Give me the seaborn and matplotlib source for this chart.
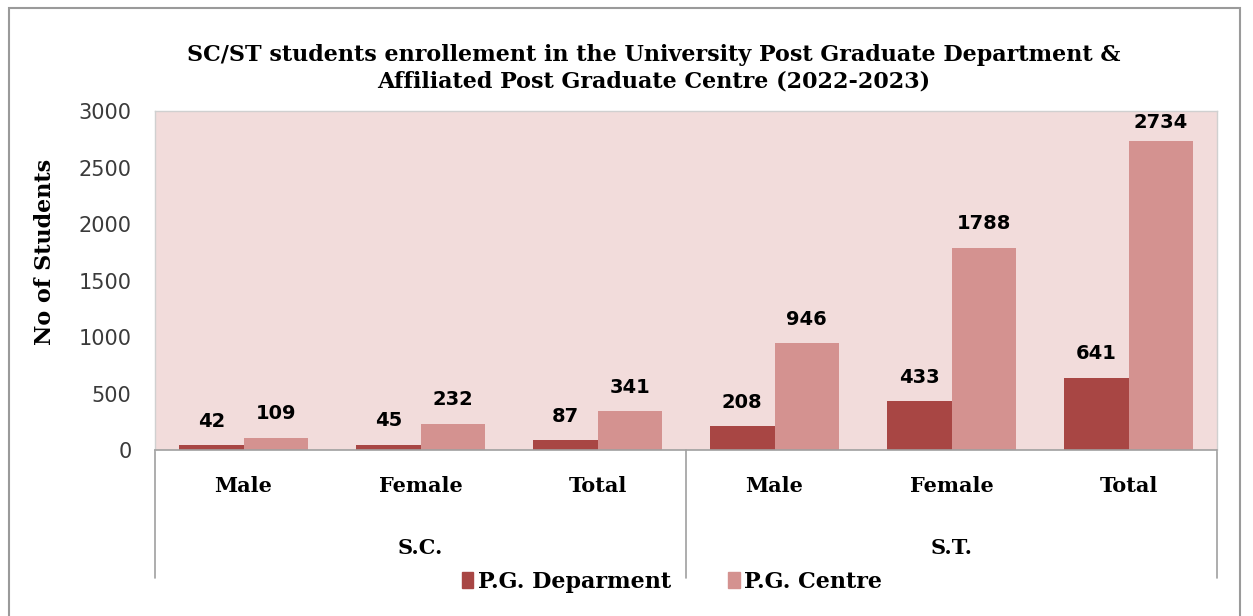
import matplotlib
matplotlib.use("Agg")
import matplotlib.pyplot as plt
import seaborn as sns
import pandas as pd
from matplotlib.patches import Rectangle
from matplotlib.lines import Line2D

groups = ["S.C.", "S.C.", "S.C.", "S.T.", "S.T.", "S.T."]
categories = ["Male", "Female", "Total", "Male", "Female", "Total"]
pg_department = [42, 45, 87, 208, 433, 641]
pg_centre = [109, 232, 341, 946, 1788, 2734]
series_names = ["P.G. Deparment", "P.G. Centre"]
yticks = [0, 500, 1000, 1500, 2000, 2500, 3000]

keys = [f"{g}|{c}" for g, c in zip(groups, categories)]
df = pd.DataFrame({
    "key": keys * 2,
    "value": pg_department + pg_centre,
    "series": [series_names[0]] * 6 + [series_names[1]] * 6,
})

sns.set_theme(style="white")
plt.rcParams["font.family"] = ["DejaVu Sans"]
plt.rcParams["text.color"] = "black"
plt.rcParams["axes.labelcolor"] = "black"

dark = "#A84644"
light = "#D49290"
bg = "#F2DCDB"

W, H = 1253, 616
fig = plt.figure(figsize=(W / 100, H / 100), dpi=100)
ax_left, ax_right, ax_top, ax_bot = 155, 1217, 111, 450
ax = fig.add_axes([ax_left / W, 1 - ax_bot / H, (ax_right - ax_left) / W, (ax_bot - ax_top) / H])
ax.set_facecolor(bg)

sns.barplot(data=df, x="key", y="value", hue="series", order=keys,
            hue_order=series_names, palette=[dark, light], width=0.73,
            saturation=1, linewidth=0, ax=ax, legend=False)

ymax = 3000
ax.set_ylim(0, ymax)
ax.set_yticks(yticks)
ax.set_yticklabels([str(t) for t in yticks], fontsize=15, color="#3A3A3A",
                   fontfamily=["DejaVu Sans"])
ax.tick_params(axis="y", length=0, pad=17)
ax.set_xticks(range(6))
ax.set_xticklabels([])
ax.tick_params(axis="x", length=0)
ax.set_xlabel("")
ax.set_ylabel("No of Students", fontsize=16, fontweight="bold",
              fontfamily=["DejaVu Serif"], color="black")
ax.yaxis.set_label_coords(-0.093, 1 - (252 - ax_top) / (ax_bot - ax_top))
for s in ["top", "right", "left"]:
    ax.spines[s].set_color("#D0D0D0")
    ax.spines[s].set_linewidth(1.0)
ax.spines["bottom"].set_color("#A0A0A0")
ax.spines["bottom"].set_linewidth(1.2)

# data labels (kept inside the plot area like the original)
axh_px = ax_bot - ax_top
px2pt = 72 / 100
for cont in ax.containers:
    for rect in cont:
        v = rect.get_height()
        dist_px = (ymax - v) / ymax * axh_px
        off_px = min(24, dist_px - 11)
        ax.annotate(f"{int(round(v))}", (rect.get_x() + rect.get_width() / 2, v),
                    xytext=(0, off_px * px2pt), textcoords="offset points",
                    ha="center", va="center", fontsize=14, fontweight="bold",
                    fontfamily=["DejaVu Sans"], color="black")

# hierarchical category axis
for i, c in enumerate(categories):
    ax.text(i, -0.105, c, transform=ax.get_xaxis_transform(), ha="center", va="center",
            fontsize=15, fontweight="bold", fontfamily=["DejaVu Serif"], color="black")
for gi, g in enumerate(["S.C.", "S.T."]):
    ax.text(1 + 3 * gi, -0.29, g, transform=ax.get_xaxis_transform(), ha="center", va="center",
            fontsize=15, fontweight="bold", fontfamily=["DejaVu Serif"], color="black")
for xpos in [-0.5, 2.5, 5.5]:
    ax.add_line(Line2D([xpos, xpos], [0, -0.378], transform=ax.get_xaxis_transform(),
                       color="#A0A0A0", lw=1.2, clip_on=False))

# title
fig.text(654 / W, 1 - 68 / H,
         "SC/ST students enrollement in the University Post Graduate Department &\nAffiliated Post Graduate Centre (2022-2023)",
         ha="center", va="center", fontsize=16, fontweight="bold",
         fontfamily=["DejaVu Serif"], linespacing=1.25, color="black")

# legend
handles = [Rectangle((0, 0), 1, 1, color=dark), Rectangle((0, 0), 1, 1, color=light)]
leg = fig.legend(handles, series_names, loc="center", bbox_to_anchor=(672 / W, 1 - 582 / H),
                 ncol=2, frameon=False, handlelength=0.5, handleheight=0.75, handletextpad=0.2,
                 columnspacing=2.6, prop={"family": "DejaVu Serif", "weight": "bold", "size": 16})
for t in leg.get_texts():
    t.set_color("black")

# outer border
fig.patches.append(Rectangle((9 / W, -0.01), (1240 - 9) / W, 1 - 8 / H + 0.01,
                             transform=fig.transFigure, fill=False,
                             edgecolor="#9A9A9A", lw=1.5))

fig.savefig("out.png", dpi=100)
